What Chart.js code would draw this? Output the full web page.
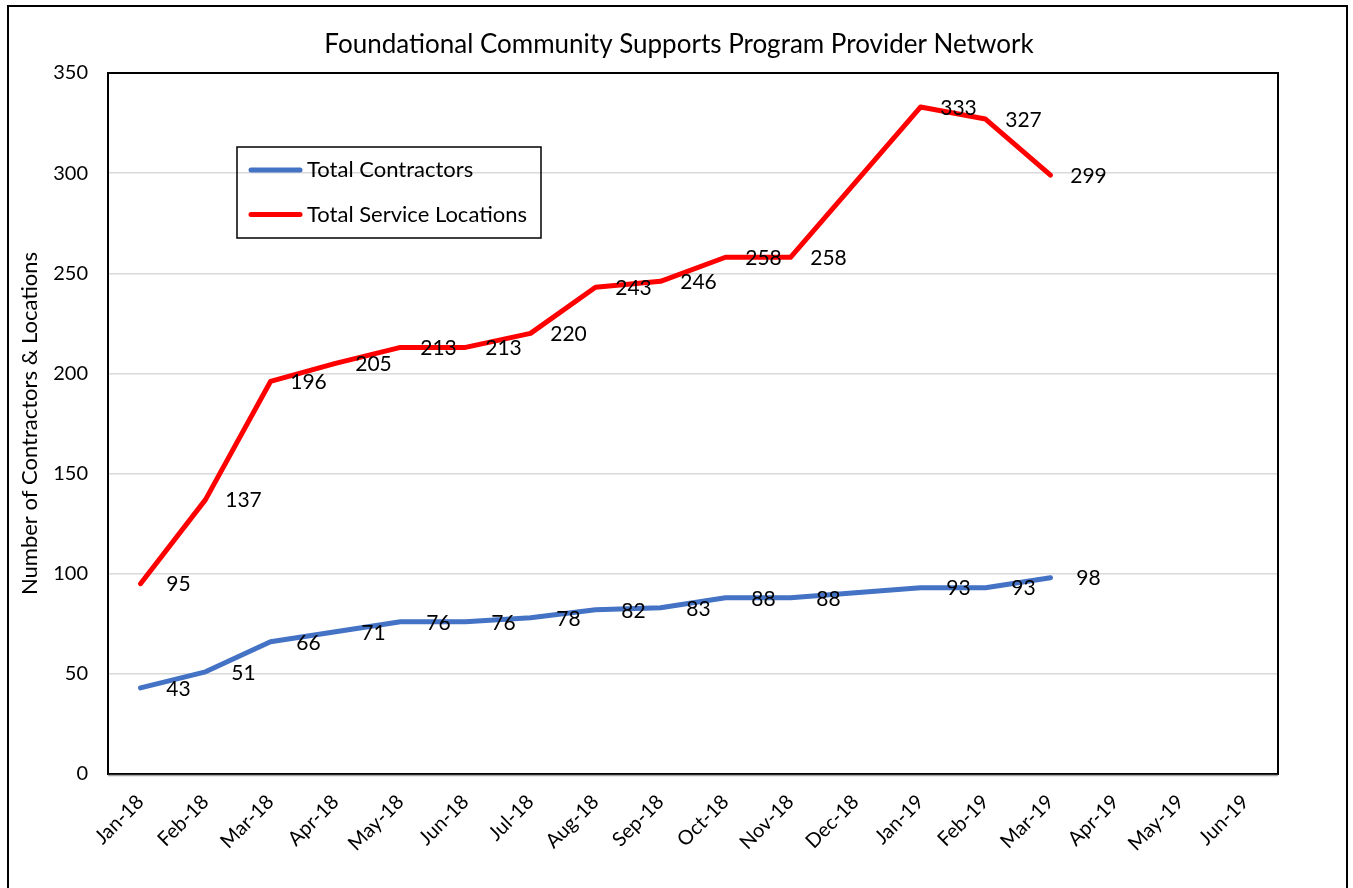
<!DOCTYPE html>
<html>
<head>
<meta charset="utf-8">
<script src="https://cdn.jsdelivr.net/npm/chart.js@4"></script>
<style>
  html, body { margin: 0; padding: 0; background: #fff; }
  #wrap { width: 1353px; height: 888px; }
</style>
</head>
<body>
<div id="wrap"><canvas id="c" width="1353" height="888"></canvas></div>
<script>
const categories = ["Jan-18","Feb-18","Mar-18","Apr-18","May-18","Jun-18","Jul-18","Aug-18","Sep-18","Oct-18","Nov-18","Dec-18","Jan-19","Feb-19","Mar-19","Apr-19","May-19","Jun-19"];
const totalContractors = [43, 51, 66, 71, 76, 76, 78, 82, 83, 88, 88, null, 93, 93, 98, null, null, null];
const totalServiceLocations = [95, 137, 196, 205, 213, 213, 220, 243, 246, 258, 258, null, 333, 327, 299, null, null, null];
const seriesNames = ["Total Contractors", "Total Service Locations"];
const seriesColors = ["#4472C4", "#FF0000"];
const chartTitle = "Foundational Community Supports Program Provider Network";
const yAxisTitle = "Number of Contractors & Locations";
const yMin = 0, yMax = 350, yStep = 50;

const FONT = 'Lato, "Open Sans", "DejaVu Sans", sans-serif';

const decorPlugin = {
  id: 'decor',
  beforeDraw(chart) {
    const ctx = chart.ctx;
    ctx.save();
    ctx.fillStyle = '#fff';
    ctx.fillRect(0, 0, chart.width, chart.height);
    ctx.strokeStyle = '#000';
    ctx.lineWidth = 2;
    ctx.strokeRect(8, 6, 1339, 900);
    ctx.fillStyle = '#000';
    ctx.font = '26px ' + FONT;
    ctx.textAlign = 'center';
    ctx.textBaseline = 'middle';
    ctx.fillText(chartTitle, 679, 45);
    ctx.restore();
  },
  afterDraw(chart) {
    const ctx = chart.ctx;
    const a = chart.chartArea;
    ctx.save();
    ctx.strokeStyle = '#000';
    ctx.lineWidth = 2;
    ctx.strokeRect(a.left, a.top, a.right - a.left, a.bottom - a.top);
    ctx.strokeStyle = '#a6a6a6';
    ctx.lineWidth = 1.5;
    ctx.beginPath();
    ctx.moveTo(a.left, a.bottom + 1.5);
    ctx.lineTo(a.right, a.bottom + 1.5);
    ctx.stroke();
    // legend
    const lx = 237, ly = 147, lw = 304, lh = 91;
    ctx.strokeStyle = '#000';
    ctx.lineWidth = 1.5;
    ctx.strokeRect(lx, ly, lw, lh);
    ctx.font = '22px ' + FONT;
    ctx.textAlign = 'left';
    ctx.textBaseline = 'middle';
    chart.data.datasets.forEach((ds, i) => {
      const y = 170 + i * 44.5;
      ctx.strokeStyle = ds.borderColor;
      ctx.lineWidth = 5;
      ctx.lineCap = 'round';
      ctx.beginPath();
      ctx.moveTo(251, y);
      ctx.lineTo(300, y);
      ctx.stroke();
      ctx.fillStyle = '#000';
      ctx.fillText(ds.label, 307, y);
    });
    ctx.restore();
  },
  afterDatasetsDraw(chart) {
    const ctx = chart.ctx;
    ctx.save();
    ctx.font = '21px ' + FONT;
    ctx.fillStyle = '#000';
    ctx.textAlign = 'center';
    ctx.textBaseline = 'middle';
    chart.data.datasets.forEach((ds, i) => {
      const meta = chart.getDatasetMeta(i);
      meta.data.forEach((pt, j) => {
        const v = ds.data[j];
        if (v === null || v === undefined) return;
        ctx.fillText(String(v), pt.x + 38, pt.y + 1);
      });
    });
    ctx.restore();
  }
};

new Chart(document.getElementById('c'), {
  type: 'line',
  data: {
    labels: categories,
    datasets: [
      { label: seriesNames[0], data: totalContractors, borderColor: seriesColors[0], backgroundColor: seriesColors[0], borderWidth: 5, pointRadius: 0, pointHoverRadius: 0, spanGaps: true, tension: 0, borderCapStyle: 'round', borderJoinStyle: 'round' },
      { label: seriesNames[1], data: totalServiceLocations, borderColor: seriesColors[1], backgroundColor: seriesColors[1], borderWidth: 5, pointRadius: 0, pointHoverRadius: 0, spanGaps: true, tension: 0, borderCapStyle: 'round', borderJoinStyle: 'round' }
    ]
  },
  options: {
    responsive: false,
    animation: false,
    events: [],
    layout: { padding: { left: 10, right: 75, top: 73, bottom: 0 } },
    plugins: {
      legend: { display: false },
      title: { display: false },
      tooltip: { enabled: false }
    },
    scales: {
      x: {
        offset: true,
        grid: { display: false, drawTicks: false },
        border: { display: false },
        ticks: { color: '#000', font: { family: FONT, size: 20 }, maxRotation: 45, minRotation: 45, autoSkip: false, padding: 16 },
        afterFit(scale) { scale.height = 114; }
      },
      y: {
        min: yMin, max: yMax,
        grid: { color: '#d9d9d9', lineWidth: 1.5, drawTicks: false },
        border: { display: false },
        ticks: { stepSize: yStep, color: '#000', font: { family: FONT, size: 20 }, padding: 20 },
        title: { display: true, text: yAxisTitle, color: '#000', font: { family: FONT, size: 22 }, padding: { top: 7, bottom: 0 } },
        afterFit(scale) { scale.width = 98; }
      }
    }
  },
  plugins: [decorPlugin]
});
</script>
</body>
</html>
